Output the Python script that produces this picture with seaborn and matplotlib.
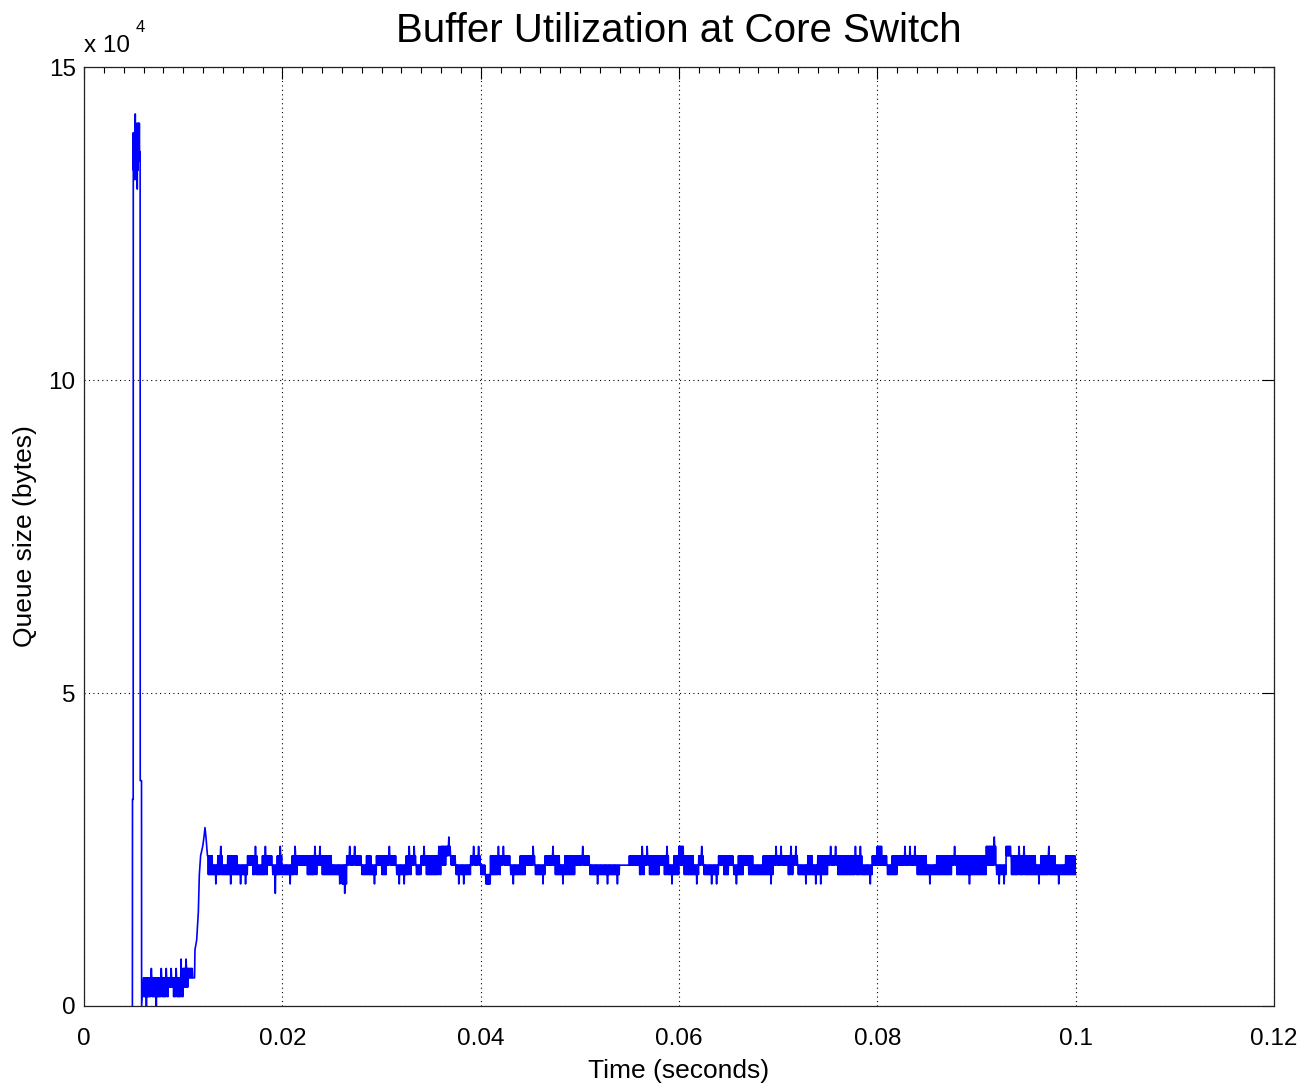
import numpy as np
import pandas as pd
import matplotlib
matplotlib.use("Agg")
import matplotlib.pyplot as plt
import seaborn as sns
from matplotlib.ticker import MultipleLocator, FixedLocator, FuncFormatter

PKT = 1500  # bytes per queued packet (queue is quantised in packets)
N = None

# ---- initial incast burst: time (ms) and queue (packets) ----
burst_t = [4.88, 4.89, 4.96, 4.97, 5.00, 5.03, 5.06, 5.09, 5.12, 5.15, 5.17,
           5.20, 5.23, 5.26, 5.29, 5.32, 5.35, 5.37, 5.40, 5.43, 5.46, 5.49, 5.52,
           5.55, 5.58, 5.61, 5.64, 5.66, 5.67, 5.80, 5.81]
burst_q = [0, 22, 22, 93, 89, 92, 88, 93, 89, 93, 95,
           89, 93, 88, 94, 89, 93, 87, 94, 89, 94, 90, 94,
           91, 94, 90, 91, 90, 24, 24, 0]

# ---- low-occupancy phase, 0.5 ms bins from 6.0 ms (upper / lower level, spike) ----
low_start_ms = 6.0
low_hi = [3, 3, 3, 3, 3, 3, 3, 3, 4, 4]
low_lo = [1, 1, 1, 1, 1, 2, 1, 1, 2, 3]
low_spk = [0, 4, 0, 4, 4, 4, 4, 5, 5, N]

# ---- ramp-up and overshoot (ms, packets) ----
rise_t = [11.0, 11.15, 11.19, 11.36, 11.53, 11.63, 11.76, 11.97, 12.10, 12.20, 12.30, 12.37, 12.45]
rise_q = [3, 3, 6, 7, 10, 14, 16, 17, 18, 19, 18, 17, 16]

# ---- steady state, 0.5 ms bins from 12.5 ms to 100 ms ----
band_start_ms = 12.5
band_hi = [16, 15, 16, 15, 16, 16, 15, 15, 16, 16,
           15, 16, 16, 15, 16, 15, 15, 16, 16, 16,
           16, 16, 16, 16, 16, 15, 15, 15, 16, 16,
           16, 15, 16, 15, 16, 16, 16, 16, 15, 15,
           16, 16, 15, 16, 16, 16, 16, 17, 17, 16,
           15, 15, 15, 16, 16, 15, 14, 16, 16, 16,
           16, 15, 15, 16, 16, 16, 15, 15, 16, 16,
           16, 15, 16, 16, 16, 16, 16, 15, 15, 15,
           15, 15, 15, 15, 15, 16, 16, 16, 16, 16,
           16, 16, 16, 15, 16, 17, 16, 16, 15, 16,
           15, 15, 15, 16, 16, 16, 15, 16, 16, 16,
           15, 15, 16, 16, 16, 16, 16, 16, 16, 15,
           15, 16, 15, 16, 16, 16, 16, 16, 16, 16,
           16, 16, 15, 15, 16, 17, 16, 15, 16, 16,
           16, 16, 16, 16, 16, 15, 15, 16, 16, 16,
           16, 16, 16, 16, 16, 16, 16, 17, 17, 15,
           15, 17, 16, 16, 16, 16, 16, 15, 16, 16,
           16, 15, 15, 16, 16]
band_lo = [14, 14, 14, 14, 14, 14, 14, 14, 15, 14,
           14, 14, 15, 14, 14, 14, 14, 14, 15, 15,
           14, 14, 15, 14, 14, 14, 14, 13, 15, 15,
           15, 14, 14, 14, 15, 14, 15, 15, 14, 14,
           14, 15, 14, 15, 14, 14, 14, 15, 16, 15,
           14, 14, 14, 15, 15, 14, 13, 14, 14, 15,
           15, 14, 14, 14, 15, 15, 14, 14, 15, 15,
           14, 14, 14, 14, 15, 15, 15, 14, 14, 14,
           14, 14, 14, 15, 15, 15, 15, 14, 15, 14,
           14, 15, 14, 14, 14, 15, 14, 14, 14, 15,
           14, 14, 14, 15, 14, 15, 14, 14, 15, 14,
           14, 14, 14, 14, 15, 15, 15, 14, 15, 14,
           14, 14, 14, 14, 14, 15, 15, 14, 14, 14,
           14, 14, 14, 14, 15, 15, 15, 14, 14, 15,
           15, 15, 15, 14, 14, 14, 14, 14, 14, 14,
           15, 14, 14, 14, 14, 14, 14, 15, 15, 14,
           14, 16, 14, 14, 14, 14, 14, 14, 14, 14,
           14, 14, 14, 14, 14]
band_spk = [N, 13, 17, N, 13, N, 13, 13, N, 17,
            N, 17, N, 12, 17, N, 13, 17, N, N,
            N, 17, 17, N, N, N, 13, 12, 17, 17,
            N, N, N, 13, N, N, 17, N, 13, 13,
            17, 17, N, 17, N, N, 17, N, 18, N,
            13, 13, N, 17, 17, N, N, N, 17, 17,
            N, 13, N, N, N, 17, N, 13, N, 17,
            N, 13, N, N, N, 17, N, N, 13, N,
            13, N, 13, N, N, N, N, 17, 17, N,
            N, N, 17, 13, N, N, N, N, 13, 17,
            N, 13, 13, N, N, N, 13, N, N, N,
            N, N, N, 13, 17, 17, N, 17, 17, N,
            13, N, 13, 13, N, 17, 17, N, N, N,
            17, 17, N, 13, N, N, N, N, N, N,
            17, 17, 17, N, N, 13, N, N, N, N,
            17, N, N, 13, N, N, N, N, 18, 13,
            13, N, N, 17, 17, N, N, 13, N, 17,
            N, 13, N, N, N]
end_ms = 100.0


def expand(start, hi, lo, spk, bin_ms=0.5, sub=12):
    """Render each bin as the queue toggling between its upper and lower level."""
    ts, qs = [], []
    for k, (h, l, s) in enumerate(zip(hi, lo, spk)):
        for j in range(sub):
            ts.append(start + bin_ms * k + bin_ms / sub * j)
            v = h if j % 2 == 0 else l
            if s is not None and j == sub // 2 + 1:
                v = s
            qs.append(v)
    return ts, qs


lt, lq = expand(low_start_ms, low_hi, low_lo, low_spk)
bt, bq = expand(band_start_ms, band_hi, band_lo, band_spk)
t_ms = burst_t + lt + rise_t + bt + [end_ms]
q_pk = burst_q + lq + rise_q + bq + [band_lo[-1]]

df = pd.DataFrame({"time_s": np.array(t_ms) / 1000.0,
                   "queue_bytes": np.array(q_pk) * PKT})

sns.set_style("white")
plt.rcParams["font.family"] = ["Liberation Sans", "DejaVu Sans"]
plt.rcParams["text.color"] = "black"
plt.rcParams["axes.labelcolor"] = "black"

fig = plt.figure(figsize=(13.05, 10.91), dpi=100)
ax = fig.add_axes([84 / 1305, 1 - 1006 / 1091, (1274 - 84) / 1305, (1006 - 67) / 1091])

sns.lineplot(data=df, x="time_s", y="queue_bytes", estimator=None, sort=False,
             color="#0000ff", linewidth=1.2, ax=ax)

ax.set_xlim(0, 0.12)
ax.set_ylim(0, 150000)
ax.xaxis.set_major_locator(MultipleLocator(0.02))
ax.xaxis.set_minor_locator(MultipleLocator(0.002))
ax.yaxis.set_major_locator(FixedLocator([0, 50000, 100000, 150000]))
ax.xaxis.set_major_formatter(FuncFormatter(lambda v, p: "0" if abs(v) < 1e-12 else f"{v:.2f}".rstrip("0")))
ax.yaxis.set_major_formatter(FuncFormatter(lambda v, p: f"{v / 1e4:g}"))

ax.tick_params(axis="both", which="both", direction="in", top=True, right=True,
               colors="black", labelsize=17.5)
ax.tick_params(axis="both", which="major", length=8.5, width=0.8)
ax.tick_params(axis="x", which="major", pad=16)
ax.tick_params(axis="y", which="major", pad=6)
ax.tick_params(axis="x", which="minor", length=4.3, width=0.8)

ax.grid(True, which="major", linestyle=(0, (1, 3)), color="black", linewidth=0.8)
for sp in ax.spines.values():
    sp.set_color("#222222")
    sp.set_linewidth(0.9)
    sp.set_zorder(3)

ax.set_xlabel("Time (seconds)", fontsize=19, labelpad=6, color="black")
ax.set_ylabel("Queue size (bytes)", fontsize=19, labelpad=8, color="black")
ax.set_title("Buffer Utilization at Core Switch", fontsize=29, pad=18, color="black")

ax.text(0.0, 1.011, "x 10", transform=ax.transAxes, ha="left", va="bottom",
        fontsize=17.5, color="black")
ax.text(0.043, 1.034, "4", transform=ax.transAxes, ha="left", va="bottom",
        fontsize=12, color="black")

fig.savefig("out.png", dpi=100, facecolor="white")
